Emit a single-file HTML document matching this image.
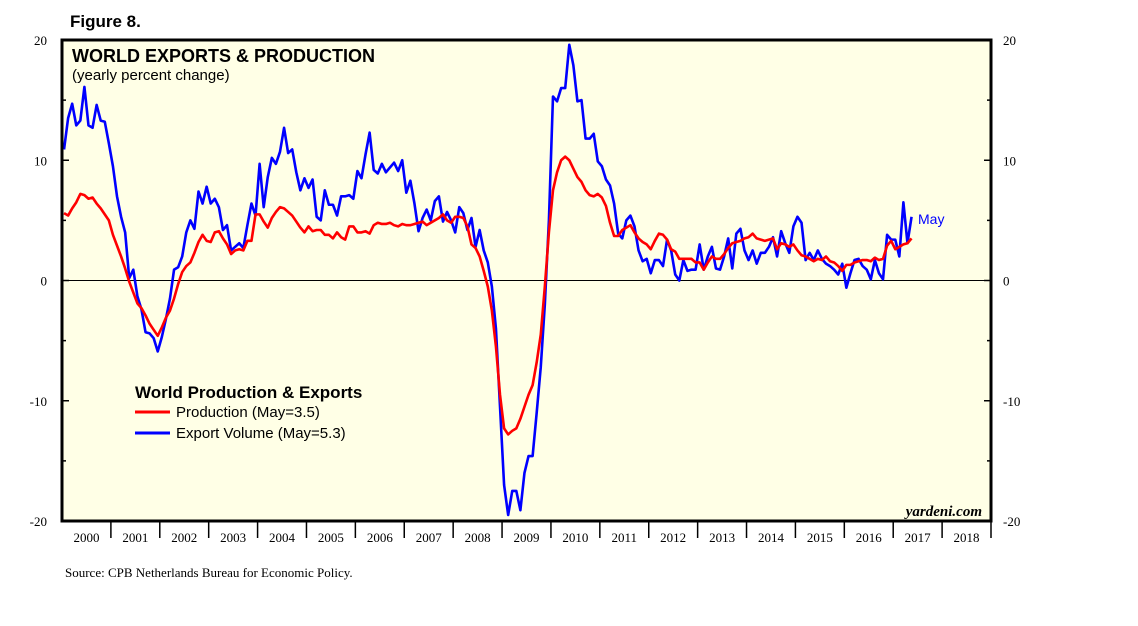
<!DOCTYPE html>
<html><head><meta charset="utf-8"><style>
body{margin:0;background:#fff;width:1138px;height:621px;overflow:hidden}
svg text{font-family:"Liberation Serif",serif}
</style></head><body>
<svg width="1138" height="621">
<text x="70" y="27" font-weight="bold" font-size="17" style="font-family:'Liberation Sans',sans-serif">Figure 8.</text>
<rect x="62" y="40" width="929" height="481" fill="#ffffe6"/>
<g id="axes"></g>
<g id="series"></g>
<rect x="62" y="40" width="929" height="481" fill="none" stroke="#000" stroke-width="3"/>
<text x="72" y="62" font-size="18" font-weight="bold" style="font-family:'Liberation Sans',sans-serif">WORLD EXPORTS &amp; PRODUCTION</text>
<text x="72" y="80" font-size="15" style="font-family:'Liberation Sans',sans-serif">(yearly percent change)</text>
<text x="135" y="398" font-size="17" font-weight="bold" style="font-family:'Liberation Sans',sans-serif">World Production &amp; Exports</text>
<line x1="135" y1="412" x2="170" y2="412" stroke="#f00" stroke-width="3"/>
<text x="176" y="417" font-size="15" style="font-family:'Liberation Sans',sans-serif">Production (May=3.5)</text>
<line x1="135" y1="433" x2="170" y2="433" stroke="#00f" stroke-width="3"/>
<text x="176" y="438" font-size="15" style="font-family:'Liberation Sans',sans-serif">Export Volume (May=5.3)</text>
<text x="918" y="224" font-size="14" fill="#00f" style="font-family:'Liberation Sans',sans-serif">May</text>
<text x="982" y="516" font-size="15" font-style="italic" font-weight="bold" text-anchor="end">yardeni.com</text>
<text x="65" y="577" font-size="13">Source: CPB Netherlands Bureau for Economic Policy.</text>
</svg>
<script>
const years=[2000,2001,2002,2003,2004,2005,2006,2007,2008,2009,2010,2011,2012,2013,2014,2015,2016,2017,2018];
const yTicks=[20,10,0,-10,-20];
const exportsData=[10.9,13.5,14.7,12.9,13.3,16.1,12.9,12.7,14.6,13.3,13.2,11.4,
9.5,7.0,5.3,4.0,0.2,0.9,-1.3,-2.4,-4.3,-4.4,-4.8,-5.9,
-4.7,-3.2,-1.5,0.9,1.1,2.0,4.0,5.0,4.3,7.4,6.4,7.8,
6.4,6.8,6.1,4.2,4.6,2.5,2.8,3.1,2.7,4.6,6.4,5.4,
9.7,6.1,8.6,10.2,9.7,10.7,12.7,10.6,10.9,9.0,7.5,8.5,
7.7,8.4,5.3,5.0,7.5,6.3,6.3,5.4,7.0,7.0,7.1,6.8,
9.1,8.5,10.5,12.3,9.2,8.9,9.7,9.0,9.4,9.8,9.1,10.0,
7.3,8.3,6.4,4.1,5.2,5.9,5.0,6.6,7.0,4.9,5.7,5.0,
4.0,6.1,5.6,4.2,5.2,2.8,4.2,2.5,1.5,-0.5,-4,-10.5,
-17,-19.5,-17.5,-17.5,-19.1,-16,-14.6,-14.6,-11,-7.2,-2,5,
15.3,14.9,16.0,16.0,19.6,17.9,14.9,15.0,11.8,11.8,12.2,9.9,
9.5,8.4,7.9,6.4,3.9,3.5,5.0,5.4,4.5,2.5,1.6,1.8,
0.6,1.7,1.7,1.2,3.4,2.5,0.5,0.0,1.7,0.8,0.9,0.9,
3.0,0.9,2.0,2.8,1.0,0.9,2.0,3.5,1.0,3.9,4.3,2.5,
1.7,2.5,1.4,2.3,2.3,2.8,3.6,2.0,4.1,3.1,2.3,4.5,
5.3,4.8,1.7,2.3,1.7,2.5,1.8,1.4,1.2,0.9,0.5,1.4,
-0.6,0.6,1.7,1.8,1.2,0.9,0.1,1.7,0.6,0.1,3.8,3.4,
3.4,2.0,6.5,3.1,5.3];
const productionData=[5.6,5.4,6.0,6.5,7.2,7.1,6.8,6.9,6.4,6.0,5.5,5.0,
3.8,2.9,2.0,1.0,-0.1,-1.0,-1.9,-2.3,-2.9,-3.6,-4.1,-4.6,
-3.9,-3.1,-2.5,-1.5,-0.3,0.7,1.2,1.5,2.3,3.2,3.8,3.3,
3.2,4.0,4.1,3.5,3.0,2.2,2.5,2.6,2.5,3.3,3.3,5.5,
5.5,4.9,4.4,5.2,5.7,6.1,6.0,5.7,5.4,4.9,4.4,4.0,
4.5,4.1,4.2,4.2,3.8,3.8,3.5,4.0,3.6,3.4,4.5,4.5,
4.0,4.0,4.1,3.9,4.6,4.8,4.7,4.7,4.8,4.6,4.5,4.7,
4.6,4.6,4.7,4.8,4.9,4.6,4.8,5.0,5.2,5.5,5.0,4.8,
5.3,5.3,5.2,4.5,3.0,2.7,2.0,0.8,-0.5,-2.5,-5.5,-9.5,
-12.3,-12.8,-12.5,-12.3,-11.5,-10.5,-9.5,-8.7,-6.8,-4.5,-0.5,4.0,
7.5,9.0,10.0,10.3,10.0,9.3,8.6,8.2,7.5,7.1,7.0,7.2,
6.9,6.2,4.8,3.7,3.7,4.2,4.4,4.6,4.0,3.5,3.2,3.0,
2.6,3.3,3.9,3.8,3.4,2.6,2.4,1.8,1.8,1.8,1.8,1.5,
1.5,0.9,1.5,2.0,1.8,1.8,2.2,2.7,3.1,3.2,3.3,3.5,
3.6,3.9,3.5,3.4,3.3,3.4,3.5,2.6,3.1,3.0,2.8,3.0,
2.5,2.1,2.0,1.8,1.6,1.8,1.7,2.0,1.6,1.5,1.2,0.8,
1.3,1.3,1.5,1.6,1.7,1.7,1.6,1.9,1.7,1.8,2.9,3.3,
2.6,2.8,3.0,3.1,3.5];
const NS='http://www.w3.org/2000/svg';
const X0=62,X1=991,Y0=40,Y1=521;
const yw=(X1-X0)/years.length;
function xs(m){return X0+(m+0.5)/12*yw;}
function ys(v){return Y0+(20-v)/40*(Y1-Y0);}
function mk(t,a,p){const e=document.createElementNS(NS,t);for(const k in a)e.setAttribute(k,a[k]);p.appendChild(e);return e;}
const ax=document.getElementById('axes');
let z=mk('line',{x1:X0,x2:X1,y1:ys(0),y2:ys(0),stroke:'#000','stroke-width':1},ax);


for(let v=-20;v<=20;v+=5){
 const len=v%10===0?7:4;
 mk('line',{x1:X0,x2:X0+len,y1:ys(v),y2:ys(v),stroke:'#000','stroke-width':1.5},ax);
 mk('line',{x1:X1-len,x2:X1,y1:ys(v),y2:ys(v),stroke:'#000','stroke-width':1.5},ax);
}
yTicks.forEach(v=>{
 const l=mk('text',{x:X0-15,y:ys(v)+5,'text-anchor':'end','font-size':13},ax);l.textContent=v;
 
 
 const r=mk('text',{x:X1+12,y:ys(v)+5,'font-size':13},ax);r.textContent=v;
 
 
});
years.forEach((yr,i)=>{
 const x=X0+i*yw;
 if(i>0) mk('line',{x1:x,x2:x,y1:Y1,y2:Y1+17,stroke:'#000','stroke-width':1.5},ax);
 const t=mk('text',{x:x+yw/2,y:Y1+21,'text-anchor':'middle','font-size':13},ax);t.textContent=yr;
 
 
});
mk('line',{x1:X1,x2:X1,y1:Y1,y2:Y1+17,stroke:'#000','stroke-width':1.5},ax);
const sg=document.getElementById('series');
function line(d,c,n){
 const p=mk('polyline',{points:d.map((v,i)=>xs(i)+','+ys(v)).join(' '),fill:'none',stroke:c,'stroke-width':2.6,'stroke-linejoin':'round'},sg);
 
 
}
line(exportsData,'#0000ff','export-volume-line');
line(productionData,'#ff0000','production-line');
</script>
</body></html>
